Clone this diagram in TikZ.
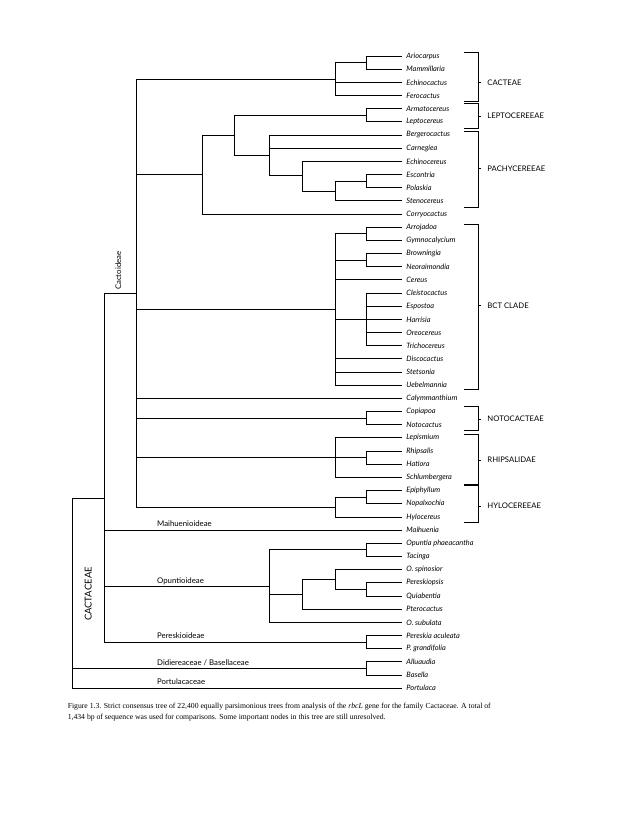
\documentclass[tikz,border=0pt]{standalone}
\usepackage{fontspec}
\setmainfont{Liberation Serif}
\setsansfont{Lato}
\tikzset{
  branch/.style={line width=.9pt,color=black},
  taxon/.style={font=\sffamily\itshape\fontsize{7.4}{8}\selectfont,anchor=west,inner xsep=4pt,inner ysep=0pt},
  tribe/.style={font=\sffamily\fontsize{7.7}{8}\selectfont,anchor=west,inner xsep=6pt},
  group/.style={font=\sffamily\fontsize{7.8}{8}\selectfont,anchor=west,inner sep=0pt}
}

\begin{document}
\begin{tikzpicture}[x=1pt,y=-1pt,branch]
\useasboundingbox (0,0) rectangle (638,826);

\foreach \i/\t in {0/Ariocarpus,1/Mammillaria,2/Echinocactus,3/Ferocactus,
  4/Armatocereus,5/Leptocereus,6/Bergerocactus,7/Carnegiea,8/Echinocereus,
  9/Escontria,10/Polaskia,11/Stenocereus,12/Corryocactus,13/Arrojadoa,
  14/Gymnocalycium,15/Browningia,16/Neoraimondia,17/Cereus,18/Cleistocactus,
  19/Espostoa,20/Harrisia,21/Oreocereus,22/Trichocereus,23/Discocactus,
  24/Stetsonia,25/Uebelmannia,26/Calymmanthium,27/Copiapoa,28/Notocactus,
  29/Lepismium,30/Rhipsalis,31/Hatiora,32/Schlumbergera,33/Epiphyllum,
  34/Nopalxochia,35/Hylocereus,36/Maihuenia,37/Opuntia phaeacantha,
  38/Tacinga,39/O. spinosior,40/Pereskiopsis,41/Quiabentia,42/Pterocactus,
  43/O. subulata,44/Pereskia aculeata,45/P. grandifolia,46/Alluaudia,
  47/Basella,48/Portulaca}
  \node[taxon] (t\i) at (402,{56+13.17*\i}) {\t};

\coordinate (ArMa) at (366,62.6);
\coordinate (Cact) at (335,79);
\coordinate (ArLe) at (366,115.3);
\coordinate (EsPo) at (366,181.1);
\coordinate (EsSt) at (335,191);
\coordinate (Echi) at (302,175);
\coordinate (Berg) at (269,155);
\coordinate (Lept) at (234.5,135);
\coordinate (Corr) at (202,174.5);
\coordinate (ArGy) at (366,233.8);
\coordinate (BrNe) at (366,260.1);
\coordinate (Clei) at (366,319.4);
\coordinate (BCT) at (335,309.6);
\coordinate (CoNo) at (366,418.2);
\coordinate (RhHa) at (366,457.7);
\coordinate (Rhip) at (335,457.7);
\coordinate (EpNo) at (366,497.2);
\coordinate (Hylo) at (335,507.1);
\coordinate (Cactoid) at (136,293);
\coordinate (OpTa) at (366,549.9);
\coordinate (PeQu) at (366,589.4);
\coordinate (Ospi) at (335,579.5);
\coordinate (Pter) at (302,594.3);
\coordinate (Opunt) at (269,586.2);
\coordinate (PeGr) at (366,642.1);
\coordinate (Cactac) at (104,498.3);
\coordinate (AlBa) at (366,668.4);
\coordinate (Root) at (72,498.3);

\draw (ArMa) |- (t0.west) (ArMa) |- (t1.west);
\draw (Cact) |- (ArMa) (Cact) |- (t2.west) (Cact) |- (t3.west);
\draw (ArLe) |- (t4.west) (ArLe) |- (t5.west);
\draw (EsPo) |- (t9.west) (EsPo) |- (t10.west);
\draw (EsSt) |- (EsPo) (EsSt) |- (t11.west);
\draw (Echi) |- (t8.west) (Echi) |- (EsSt);
\draw (Berg) |- (t6.west) (Berg) |- (t7.west) (Berg) |- (Echi);
\draw (Lept) |- (ArLe) (Lept) |- (Berg);
\draw (Corr) |- (Lept) (Corr) |- (t12.west);

\draw (ArGy) |- (t13.west) (ArGy) |- (t14.west);
\draw (BrNe) |- (t15.west) (BrNe) |- (t16.west);
\draw (Clei) |- (t18.west) (Clei) |- (t19.west) (Clei) |- (t20.west)
      (Clei) |- (t21.west) (Clei) |- (t22.west);
\draw (BCT) |- (ArGy) (BCT) |- (BrNe) (BCT) |- (t17.west) (BCT) |- (Clei)
      (BCT) |- (t23.west) (BCT) |- (t24.west) (BCT) |- (t25.west);

\draw (CoNo) |- (t27.west) (CoNo) |- (t28.west);
\draw (RhHa) |- (t30.west) (RhHa) |- (t31.west);
\draw (Rhip) |- (t29.west) (Rhip) |- (RhHa) (Rhip) |- (t32.west);
\draw (EpNo) |- (t33.west) (EpNo) |- (t34.west);
\draw (Hylo) |- (EpNo) (Hylo) |- (t35.west);
\draw (Cactoid) |- (Cact) (Cactoid) |- (Corr) (Cactoid) |- (BCT)
      (Cactoid) |- (t26.west) (Cactoid) |- (CoNo) (Cactoid) |- (Rhip)
      (Cactoid) |- (Hylo);

\draw (OpTa) |- (t37.west) (OpTa) |- (t38.west);
\draw (PeQu) |- (t40.west) (PeQu) |- (t41.west);
\draw (Ospi) |- (t39.west) (Ospi) |- (PeQu);
\draw (Pter) |- (Ospi) (Pter) |- (t42.west);
\draw (Opunt) |- (OpTa) (Opunt) |- (Pter) (Opunt) |- (t43.west);
\draw (PeGr) |- (t44.west) (PeGr) |- (t45.west);
\draw (Cactac) |- (Cactoid) (Cactac) |- (t36.west) (Cactac) |- (Opunt)
      (Cactac) |- (PeGr);
\draw (AlBa) |- (t46.west) (AlBa) |- (t47.west);
\draw (Root) |- (Cactac) (Root) |- (AlBa) (Root) |- (t48.west);

\node[group,rotate=90,anchor=center] (CactoidLab) at (118.3,270.7) {Cactoideae};
\node[font=\sffamily\fontsize{9.5}{10}\selectfont,rotate=90] (FamilyLab) at (88.3,594) {CACTACEAE};
\node[group] (MaihLab) at (156.7,523.7) {Maihuenioideae};
\node[group] (OpuntLab) at (156.7,581) {Opuntioideae};
\node[group] (PeresLab) at (156.7,636) {Pereskioideae};
\node[group] (DidiLab) at (156.7,662.7) {Didiereaceae / Basellaceae};
\node[group] (PortLab) at (156.7,681.7) {Portulacaceae};

\foreach \a/\b/\m/\n/\l in {52.3/101.5/82.7/cacteae/CACTEAE,
  103.7/128.3/116/lepto/LEPTOCEREEAE, 131.7/207.3/168.3/pachy/PACHYCEREEAE,
  224/389.3/305.3/bctclade/BCT CLADE, 406/430.7/419/noto/NOTOCACTEAE,
  434/484/460/rhipsa/RHIPSALIDAE, 485.5/522.7/506/hyloc/HYLOCEREEAE}
{
  \draw (464,\a) -- (478.3,\a) -- (478.3,\b) -- (464,\b);
  \draw (478.3,\m) -- (481,\m) node[tribe] (\n) {\l};
}

\node[anchor=north west,align=left,inner sep=0pt,font=\fontsize{7.7}{11.3}\selectfont] (caption) at (67.3,702.5)
  {Figure 1.3. Strict consensus tree of 22,400 equally parsimonious trees from analysis of the \textit{rbcL} gene for the family Cactaceae. A total of\\
   1,434 bp of sequence was used for comparisons. Some important nodes in this tree are still unresolved.};

\end{tikzpicture}
\end{document}
